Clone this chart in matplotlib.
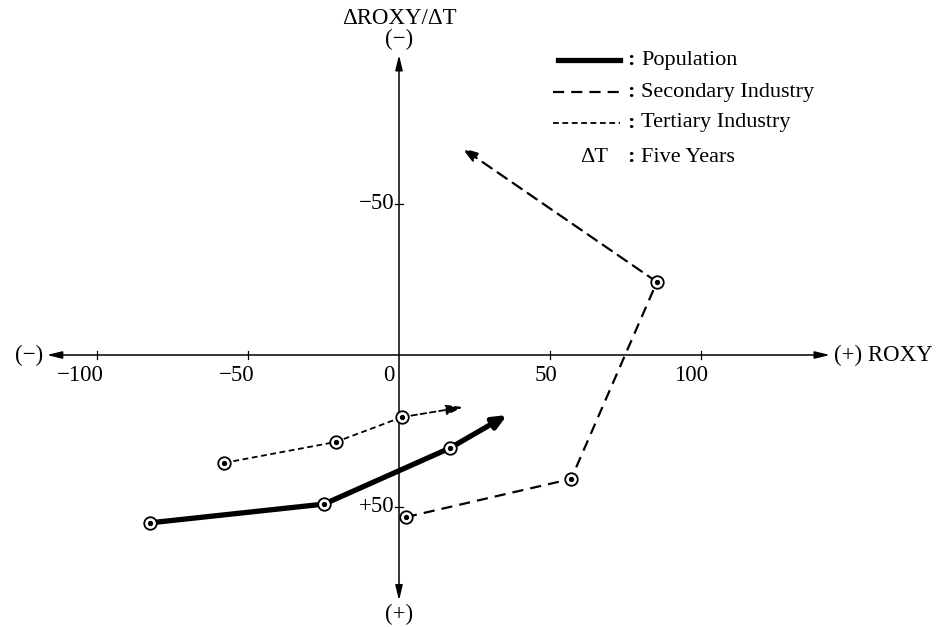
import matplotlib
matplotlib.use("Agg")
import matplotlib.pyplot as plt
from matplotlib.lines import Line2D

# ---- data (ROXY, dROXY/dT) ; last entry of each series is the arrow tip ----
pop_x = [-82.5, -24.8, 16.9, 35.8]
pop_y = [55.4, 49.2, 30.7, 19.8]
sec_x = [2.3, 57.0, 85.4, 20.9]
sec_y = [53.5, 40.9, -24.1, -68.3]
ter_x = [-57.9, -20.9, 1.0, 21.2]
ter_y = [35.6, 28.7, 20.5, 17.2]

x_ticks = [-100, -50, 0, 50, 100]
x_tick_labels = ["\u2212100", "\u221250", "0", "50", "100"]
y_ticks = [-50, 50]
y_tick_labels = ["\u221250", "+50"]

legend_labels = ["Population", "Secondary Industry", "Tertiary Industry", "Five Years"]

FONT = "Liberation Serif"
plt.rcParams['font.family'] = [FONT, 'DejaVu Serif']

fig = plt.figure(figsize=(9.48, 6.27), dpi=100)
ax = fig.add_axes([0, 0, 1, 1])
ax.set_xlim(-399 / 3.02, (948 - 399) / 3.02)
ax.set_ylim((627 - 355) / 3.03, -355 / 3.03)
ax.axis("off")

# axes with arrows
axis_kw = dict(arrowstyle="<|-|>,head_length=0.9,head_width=0.22", color="black", lw=1.1,
               shrinkA=0, shrinkB=0)
ax.annotate("", xy=(142.7, 0), xytext=(-116.6, 0), arrowprops=axis_kw)
ax.annotate("", xy=(0, 81), xytext=(0, -99), arrowprops=axis_kw)

# ticks
for t in x_ticks:
    if t != 0:
        ax.plot([t, t], [-1.4, 1.4], color="black", lw=0.9)
for t in y_ticks:
    ax.plot([-1.4, 1.4], [t, t], color="black", lw=0.9)

# tick labels
for t, lab in zip(x_ticks, x_tick_labels):
    ax.annotate(lab, xy=(t, 0), xytext=(5 if t != 0 else -3, -7), textcoords="offset points",
                ha="right", va="top", fontsize=16.5)
for t, lab in zip(y_ticks, y_tick_labels):
    ax.annotate(lab, xy=(0, t), xytext=(-3, 0), textcoords="offset points",
                ha="right", va="center", fontsize=16.5)

# axis labels
ax.text(-118, 0, "(\u2212)", ha="right", va="center", fontsize=16.5)
ax.text(144, 0, "(+) ROXY", ha="left", va="center", fontsize=16.5)
ax.text(0, -111, "\u0394ROXY/\u0394T", ha="center", va="center", fontsize=16.5)
ax.text(0, -104, "(\u2212)", ha="center", va="center", fontsize=16.5)
ax.text(0, 85.5, "(+)", ha="center", va="center", fontsize=16.5)

def draw_series(xs, ys, lw, ls, head):
    ax.plot(xs[:-1], ys[:-1], color="black", lw=lw, linestyle=ls, solid_capstyle="round",
            zorder=2)
    ax.annotate("", xy=(xs[-1], ys[-1]), xytext=(xs[-2], ys[-2]),
                arrowprops=dict(arrowstyle=head, color="black", lw=lw, linestyle=ls,
                                shrinkA=0, shrinkB=0), zorder=2)
    ax.plot(xs[:-1], ys[:-1], linestyle="none", marker="o", markersize=9,
            markerfacecolor="white", markeredgecolor="black", markeredgewidth=1.3, zorder=3)
    ax.plot(xs[:-1], ys[:-1], linestyle="none", marker="o", markersize=2.8,
            color="black", zorder=4)

pop_ls = "-"
sec_ls = (0, (5, 3.2))
ter_ls = (0, (3.2, 2.0))
draw_series(pop_x, pop_y, 3.8, pop_ls, "-|>,head_length=0.8,head_width=0.35")
draw_series(sec_x, sec_y, 1.6, sec_ls, "-|>,head_length=0.9,head_width=0.3")
draw_series(ter_x, ter_y, 1.3, ter_ls, "-|>,head_length=1.0,head_width=0.3")

# legend (hand-built, in pixel positions)
def px(x, y):
    return fig.transFigure.inverted().transform((x, 627 - y))

rows_y = [60, 92, 123, 157]
styles = [(pop_ls, 3.8, 558), (sec_ls, 1.6, 553), (ter_ls, 1.3, 553)]
for (ls, lw, x0), y in zip(styles, rows_y[:3]):
    (fx0, fy), (fx1, _) = px(x0, y), px(620, y)
    fig.add_artist(Line2D([fx0, fx1], [fy, fy], color="black", lw=lw, linestyle=ls))
for lab, y in zip(legend_labels, rows_y):
    fx, fy = px(627, y)
    fig.text(fx, fy, ":", ha="left", va="center", fontsize=16, fontweight="bold")
    fx, fy = px(641, y)
    fig.text(fx, fy, lab, ha="left", va="center", fontsize=16)
fx, fy = px(594, rows_y[3])
fig.text(fx, fy, "\u0394T", ha="center", va="center", fontsize=16)

fig.savefig("out.png", dpi=100)
